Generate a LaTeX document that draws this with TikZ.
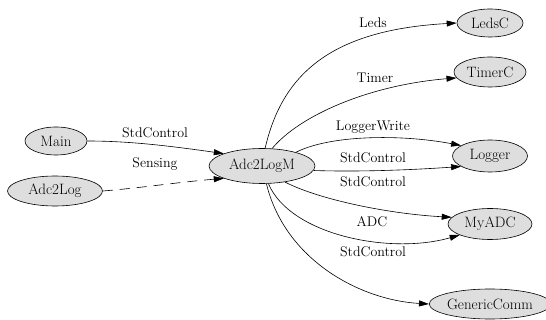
\documentclass[tikz,border=0pt]{standalone}
\usetikzlibrary{shapes.geometric,arrows.meta}
\begin{document}
\begin{tikzpicture}[x=1pt,y=-1pt,
  comp/.style={ellipse,draw=black,fill=black!13,inner sep=0pt,line width=0.6pt,font=\rmfamily\fontsize{15}{15}\selectfont},
  lab/.style={inner sep=0pt,font=\rmfamily\fontsize{14}{14}\selectfont},
  conn/.style={line width=0.6pt,-{Triangle[length=10pt,width=6pt]}}]
\useasboundingbox (0,0) rectangle (546,320);
% nodes
\node[comp,minimum width=62,minimum height=28] (main) at (56,141) {Main};
\node[comp,minimum width=95,minimum height=30] (adc2log) at (55,191) {Adc2Log};
\node[comp,minimum width=106,minimum height=35] (am) at (262,166) {Adc2LogM};
\node[comp,minimum width=66,minimum height=28] (ledsc) at (490,23) {LedsC};
\node[comp,minimum width=72,minimum height=30] (timerc) at (490,72) {TimerC};
\node[comp,minimum width=75,minimum height=32] (logger) at (490,156) {Logger};
\node[comp,minimum width=84,minimum height=31] (myadc) at (490,224) {MyADC};
\node[comp,minimum width=112,minimum height=30] (gc) at (490,304) {GenericComm};
% labels
\node[lab] (l1) at (155,133) {StdControl};
\node[lab] (l2) at (155,164) {Sensing};
\node[lab] (l3) at (373,23) {Leds};
\node[lab] (l4) at (375,78) {Timer};
\node[lab] (l5) at (373,127) {LoggerWrite};
\node[lab] (l6) at (373,158) {StdControl};
\node[lab] (l7) at (373,182) {StdControl};
\node[lab] (l8) at (372,222) {ADC};
\node[lab] (l9) at (373,252) {StdControl};
% edges
\draw[conn] (main.east) .. controls (130,141) and (170,146) .. (am.162);
\draw[conn,dash pattern=on 10pt off 7pt] (adc2log.east) .. controls (140,188) and (180,182) .. (am.198);
\draw[conn] (am.80) .. controls (282,75) and (330,30) .. (ledsc.west);
\draw[conn] (am.60) .. controls (300,115) and (370,85) .. (timerc.190);
\draw[conn] (am.22) .. controls (330,135) and (400,134) .. (logger.160);
\draw[conn] (am.-5) .. controls (360,172) and (410,170) .. (logger.200);
\draw[conn] (am.-35) .. controls (320,200) and (390,214) .. (myadc.170);
\draw[conn] (am.-70) .. controls (290,235) and (390,255) .. (myadc.200);
\draw[conn] (am.-76) .. controls (285,260) and (360,300) .. (gc.west);
\end{tikzpicture}
\end{document}
